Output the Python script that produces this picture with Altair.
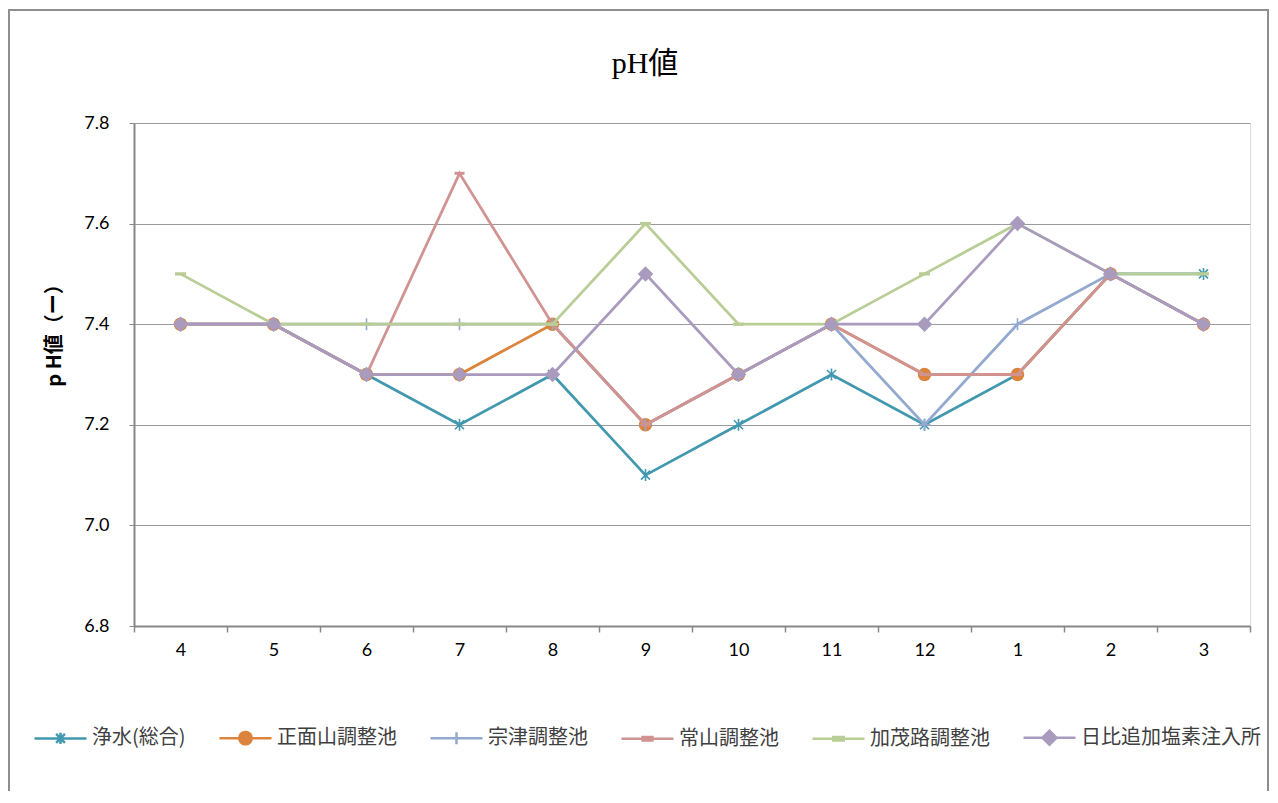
import altair as alt
import pandas as pd

months = ["4", "5", "6", "7", "8", "9", "10", "11", "12", "1", "2", "3"]
series = ["浄水(総合)", "正面山調整池", "宗津調整池", "常山調整池", "加茂路調整池", "日比追加塩素注入所"]
jousui = [7.4, 7.4, 7.3, 7.2, 7.3, 7.1, 7.2, 7.3, 7.2, 7.3, 7.5, 7.5]
shoumen = [7.4, 7.4, 7.3, 7.3, 7.4, 7.2, 7.3, 7.4, 7.3, 7.3, 7.5, 7.4]
soutsu = [7.4, 7.4, 7.4, 7.4, 7.4, 7.2, 7.3, 7.4, 7.2, 7.4, 7.5, 7.4]
tsuneyama = [7.4, 7.4, 7.3, 7.7, 7.4, 7.2, 7.3, 7.4, 7.3, 7.3, 7.5, 7.4]
kamoji = [7.5, 7.4, 7.4, 7.4, 7.4, 7.6, 7.4, 7.4, 7.5, 7.6, 7.5, 7.5]
hibi = [7.4, 7.4, 7.3, 7.3, 7.3, 7.5, 7.3, 7.4, 7.4, 7.6, 7.5, 7.4]
y_ticks = [6.8, 7.0, 7.2, 7.4, 7.6, 7.8]

colors = ["#4198AF", "#DB843D", "#93A9CF", "#D19392", "#B9CD96", "#A99BBD"]

values = [jousui, shoumen, soutsu, tsuneyama, kamoji, hibi]
rows = []
for name, vals in zip(series, values):
    for m, v in zip(months, vals):
        rows.append({"month": m, "series": name, "value": v})
df = pd.DataFrame(rows)

# marker shapes (unit coordinates)
asterisk = "M-0.75,-0.75L0.75,0.75M-0.75,0.75L0.75,-0.75M0,-1V1"
plus = "M-1,0H1M0,-1V1"
dash = "M-1,-0.3H1V0.3H-1Z"
markers = [
    dict(shape=asterisk, filled=False, size=144, strokeWidth=1.6),
    dict(shape="circle", filled=True, size=180, strokeWidth=0),
    dict(shape=plus, filled=False, size=144, strokeWidth=1.6),
    dict(shape=dash, filled=True, size=100, strokeWidth=0),
    dict(shape=dash, filled=True, size=121, strokeWidth=0),
    dict(shape="diamond", filled=True, size=240, strokeWidth=0),
]

line = "M-1,0H1"
legend_paths = [
    line + "M-0.17,-0.17L0.17,0.17M-0.17,0.17L0.17,-0.17M0,-0.22V0.22",
    line + "M-0.24,0A0.24,0.24,0,1,0,0.24,0A0.24,0.24,0,1,0,-0.24,0Z",
    line + "M-0.23,0H0.23M0,-0.23V0.23",
    line + "M-0.19,-0.07H0.19V0.07H-0.19Z",
    line + "M-0.2,-0.07H0.2V0.07H-0.2Z",
    line + "M-0.27,0L0,-0.27L0.27,0L0,0.27Z",
]

x_enc = alt.X(
    "month:N",
    sort=months,
    scale=alt.Scale(paddingInner=0, paddingOuter=0),
    axis=alt.Axis(
        title=None,
        labelAngle=0,
        tickBand="extent",
        grid=False,
        labelFont="Lato",
        labelFontSize=18,
        labelColor="#000000",
        labelPadding=9,
        tickSize=6,
        tickColor="#888888",
        tickWidth=1.5,
        domainColor="#888888",
        domainWidth=2,
    ),
)
y_enc = alt.Y(
    "value:Q",
    scale=alt.Scale(domain=[6.8, 7.8], nice=False, zero=False),
    axis=alt.Axis(
        values=y_ticks,
        format=".1f",
        title="p H値（ー）",
        titleFont="Noto Sans CJK JP",
        titleFontSize=20,
        titleFontWeight="bold",
        titleColor="#000000",
        titleX=-80,
        titleY=207,
        titleAngle=-90,
        titleAlign="center",
        titleBaseline="middle",
        labelFont="Lato",
        labelFontSize=18,
        labelColor="#000000",
        labelPadding=20,
        tickSize=5,
        tickColor="#888888",
        domainColor="#888888",
        domainWidth=2,
        grid=True,
        gridColor="#9a9a9a",
        gridWidth=1,
    ),
)

layers = []

frame = alt.Chart(alt.Data(values=[{"k": 1}])).mark_rect(
    fill="white", fillOpacity=0, stroke="#8e8e8e", strokeWidth=2, clip=False
).encode(
    x=alt.value(-125), x2=alt.value(1134), y=alt.value(-113), y2=alt.value(800)
)
layers.append(frame)

for name, col, mk in zip(series, colors, markers):
    base = alt.Chart(df).transform_filter(alt.datum.series == name)
    layers.append(base.mark_line(color=col, strokeWidth=2.75).encode(x=x_enc, y=y_enc))
    layers.append(
        base.mark_point(
            shape=mk["shape"],
            filled=mk["filled"],
            color=col,
            size=mk["size"],
            strokeWidth=mk["strokeWidth"],
            opacity=1,
        ).encode(x=x_enc, y=y_enc)
    )

leg = alt.Legend(
    orient="none",
    legendX=-101,
    legendY=587,
    direction="horizontal",
    columns=6,
    title=None,
    symbolSize=2704,
    symbolStrokeWidth=2.5,
    labelFont="Noto Sans CJK JP",
    labelFontSize=20,
    labelColor="#404040",
    labelOffset=4,
    columnPadding=28,
    labelLimit=300,
)

legend_layer = alt.Chart(df).mark_point(
    filled=False, opacity=1, clip=True, size=2704, strokeWidth=2.5
).encode(
    x=alt.value(-500),
    y=alt.value(-500),
    color=alt.Color("series:N", sort=series, scale=alt.Scale(domain=series, range=colors), legend=leg),
    fill=alt.Fill("series:N", sort=series, scale=alt.Scale(domain=series, range=colors), legend=leg),
    shape=alt.Shape("series:N", sort=series, scale=alt.Scale(domain=series, range=legend_paths), legend=leg),
)
layers.append(legend_layer)

chart = alt.layer(*layers).properties(
    width=1116,
    height=503,
    padding={"left": 126, "top": 115, "right": 20, "bottom": 165},
    autosize=alt.AutoSizeParams(type="none"),
    title=alt.TitleParams(
        "pH値",
        font="Liberation Serif, Noto Sans CJK JP",
        fontSize=30,
        fontWeight="normal",
        color="#000000",
        anchor="middle",
        frame="group",
        baseline="alphabetic",
        offset=40,
        dx=-47,
        dy=134,
    ),
).configure_view(strokeWidth=0).configure(background="white")

chart.save("out.html", embed_options={"renderer": "svg", "actions": False})
